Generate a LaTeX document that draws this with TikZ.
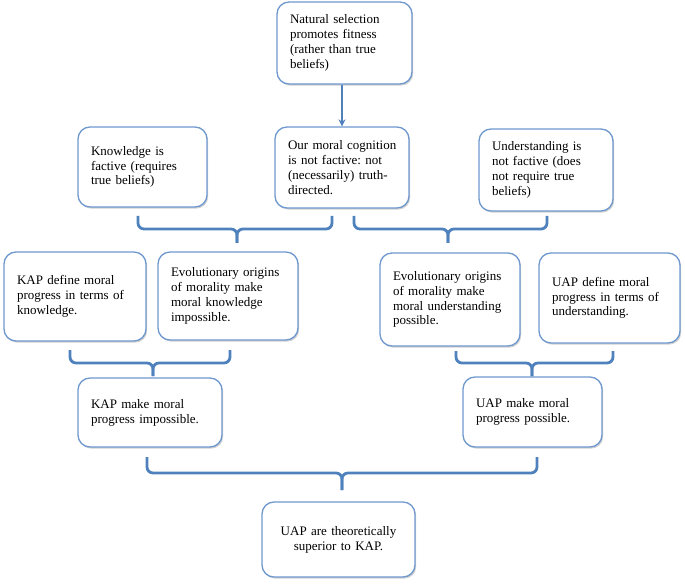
\documentclass[tikz,border=0pt]{standalone}
\usepackage{fontspec}
\setmainfont{Liberation Serif}
\usetikzlibrary{shadows,arrows.meta}
\definecolor{boxline}{RGB}{110,152,206}
\definecolor{braceline}{RGB}{79,129,189}
\newcommand\mline[1]{\mbox{#1}}
\frenchspacing
\tikzset{
  box/.style={draw=boxline, line width=1.3pt, fill=white, rounded corners=12pt,
    inner xsep=13pt, inner ysep=2pt, align=left,
    font=\fontsize{13}{14.8}\selectfont,
    drop shadow={shadow xshift=1.2pt, shadow yshift=-1.6pt, opacity=0.3, fill=black!60}},
  bracepath/.style={draw=braceline, line width=2.8pt, rounded corners=6pt},
  arrowline/.style={draw=braceline, line width=2.4pt, -{Stealth[length=7pt,width=7pt]}}
}
\begin{document}
\begin{tikzpicture}[x=1pt,y=-1pt]
\useasboundingbox (0,0) rectangle (685,585);

\node[box, minimum width=135pt, minimum height=82pt, text width=109pt] (ns) at (344.5,43)
  {\mline{Natural selection}\\\mline{promotes fitness}\\\mline{(rather than true}\\\mline{beliefs)}};
\node[box, minimum width=129pt, minimum height=80pt, text width=103pt] (kf) at (142.5,167)
  {\mline{Knowledge is}\\\mline{factive (requires}\\\mline{true beliefs)}};
\node[box, minimum width=134pt, minimum height=81pt, text width=108pt] (mc) at (342,167.5)
  {\mline{Our moral cognition}\\\mline{is not factive: not}\\\mline{(necessarily) truth-}\\\mline{directed.}};
\node[box, minimum width=134pt, minimum height=82pt, text width=108pt] (uf) at (546,170)
  {\mline{Understanding is}\\\mline{not factive (does}\\\mline{not require true}\\\mline{beliefs)}};
\node[box, minimum width=142pt, minimum height=89pt, text width=116pt] (kd) at (75,296.5)
  {\mline{KAP define moral}\\\mline{progress in terms of}\\\mline{knowledge.}};
\node[box, minimum width=140pt, minimum height=88pt, text width=114pt] (ek) at (228,296)
  {\mline{Evolutionary origins}\\\mline{of morality make}\\\mline{moral knowledge}\\\mline{impossible.}};
\node[box, minimum width=140pt, minimum height=93pt, text width=114pt] (eu) at (450,299.5)
  {\mline{Evolutionary origins}\\\mline{of morality make}\\\mline{moral understanding}\\\mline{possible.}};
\node[box, minimum width=141pt, minimum height=90pt, text width=115pt] (ud) at (609.5,298)
  {\mline{UAP define moral}\\\mline{progress in terms of}\\\mline{understanding.}};
\node[box, minimum width=144pt, minimum height=69pt, text width=118pt] (ki) at (150,412.5)
  {\mline{KAP make moral}\\\mline{progress impossible.}};
\node[box, minimum width=139pt, minimum height=70pt, text width=113pt] (up) at (532.5,412)
  {\mline{UAP make moral}\\\mline{progress possible.}};
\node[box, minimum width=153pt, minimum height=75pt, text width=127pt, align=center] (us) at (338.5,539.5)
  {UAP are theoretically\\superior to KAP.};

% arrow
\draw[arrowline] (ns.south -| mc.north) -- (mc.north);

% brace coordinates
\coordinate (aL) at (138,216); \coordinate (aR) at (332,216);
\coordinate (aC) at (237,229); \coordinate (aT) at (237,243);
\coordinate (bL) at (354,216); \coordinate (bR) at (547,216);
\coordinate (bC) at (448,229); \coordinate (bT) at (448,243);
\coordinate (cL) at (70,350); \coordinate (cR) at (230,350);
\coordinate (cC) at (153,363); \coordinate (cT) at (153,376);
\coordinate (dL) at (456,351); \coordinate (dR) at (613,351);
\coordinate (dC) at (532,363); \coordinate (dT) at (532,376);
\coordinate (eL) at (147,457); \coordinate (eR) at (537,457);
\coordinate (eC) at (342,473); \coordinate (eT) at (342,490);

\foreach \b in {a,b,c,d,e}{
  \draw[bracepath] (\b L) -- (\b L |- \b C) -- (\b C) -- (\b T);
  \draw[bracepath] (\b R) -- (\b R |- \b C) -- (\b C) -- (\b T);
}
\end{tikzpicture}
\end{document}
